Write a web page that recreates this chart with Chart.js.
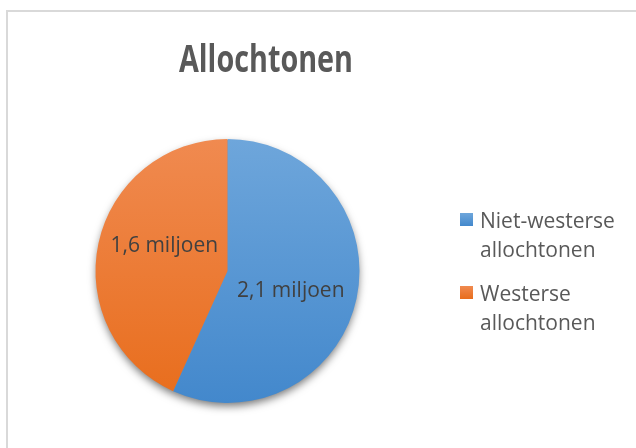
<!DOCTYPE html>
<html>
<head>
<meta charset="utf-8">
<script src="https://cdn.jsdelivr.net/npm/chart.js@4/dist/chart.umd.min.js"></script>
<style>
  html, body { margin: 0; padding: 0; background: #fff; }
  #wrap { width: 636px; height: 448px; position: relative; }
</style>
</head>
<body>
<div id="wrap"><canvas id="chartOne" width="636" height="448"></canvas></div>
<script>
// data
const titleText = 'Allochtonen';
const categories = ['Niet-westerse allochtonen', 'Westerse allochtonen'];
const legendLines = [['Niet-westerse', 'allochtonen'], ['Westerse', 'allochtonen']];
const values = [2.1, 1.6];
const valueLabels = ['2,1 miljoen', '1,6 miljoen'];

// colours (top -> bottom of the pie)
const topColors = ['#6ea6db', '#f08a50'];
const bottomColors = ['#4388cc', '#e86d1c'];

const font = '"Open Sans", "Liberation Sans", sans-serif';
const labelNudge = [5, -12.5]; // vertical nudge of each data label

function sliceFill(context) {
    const chart = context.chart;
    const area = chart.chartArea;
    if (!area) return topColors[context.dataIndex];
    const g = chart.ctx.createLinearGradient(0, area.top, 0, area.bottom);
    g.addColorStop(0, topColors[context.dataIndex]);
    g.addColorStop(1, bottomColors[context.dataIndex]);
    return g;
}

const frameAndShadow = {
    id: 'frameAndShadow',
    beforeDraw(chart) {
        const c = chart.ctx;
        c.save();
        c.fillStyle = '#ffffff';
        c.fillRect(0, 0, chart.width, chart.height);
        c.strokeStyle = '#d9d9d9';
        c.lineWidth = 2;
        c.strokeRect(7, 11, chart.width + 10, chart.height + 10);
        c.restore();
    },
    beforeDatasetsDraw(chart) {
        const arc = chart.getDatasetMeta(0).data[0];
        if (!arc) return;
        const c = chart.ctx;
        c.save();
        c.shadowColor = 'rgba(0,0,0,0.55)';
        c.shadowBlur = 9;
        c.shadowOffsetY = 4;
        c.fillStyle = '#5a8fc8';
        c.beginPath();
        c.arc(arc.x, arc.y, arc.outerRadius - 1, 0, Math.PI * 2);
        c.fill();
        c.restore();
    },
    afterDatasetsDraw(chart) {
        const c = chart.ctx;
        const arcs = chart.getDatasetMeta(0).data;
        c.save();
        c.font = '21px ' + font;
        c.fillStyle = '#404040';
        c.textAlign = 'center';
        c.textBaseline = 'alphabetic';
        arcs.forEach(function(arc, i) {
            const mid = (arc.startAngle + arc.endAngle) / 2;
            const d = arc.outerRadius * 0.49;
            const x = arc.x + Math.cos(mid) * d;
            const y = arc.y + Math.sin(mid) * d + 7.5 + labelNudge[i];
            c.fillText(valueLabels[i], x, y);
        });

        // title
        c.fillStyle = '#595959';
        c.font = 'bold 38px "Liberation Sans Narrow", ' + font;
        const w = c.measureText(titleText).width;
        const sx = Math.min(1, 174 / w);
        c.save();
        c.translate(266, 72);
        c.scale(sx, 1);
        c.fillText(titleText, 0, 0);
        c.restore();

        // legend
        c.textAlign = 'left';
        c.font = '21px ' + font;
        const firstBaseline = [228, 301];
        legendLines.forEach(function(lines, i) {
            c.fillStyle = topColors[i];
            const g = c.createLinearGradient(0, firstBaseline[i] - 15, 0, firstBaseline[i] - 2);
            g.addColorStop(0, topColors[i]);
            g.addColorStop(1, bottomColors[i]);
            c.fillStyle = g;
            c.fillRect(460, firstBaseline[i] - 15, 13, 13);
            c.fillStyle = '#595959';
            lines.forEach(function(t, j) {
                c.fillText(t, 480, firstBaseline[i] + j * 29);
            });
        });
        c.restore();
    }
};

const ctx = document.getElementById('chartOne').getContext('2d');
const chartOne = new Chart(ctx, {
    type: 'pie',
    data: {
        labels: categories,
        datasets: [{
            data: values,
            backgroundColor: sliceFill,
            borderWidth: 0,
            offset: 0,
            hoverOffset: 0
        }]
    },
    options: {
        responsive: false,
        animation: false,
        layout: { padding: { left: 95.5, right: 276.5, top: 139, bottom: 45 } },
        plugins: {
            legend: { display: false },
            title: { display: false },
            tooltip: { enabled: false }
        }
    },
    plugins: [frameAndShadow]
});
</script>
</body>
</html>
